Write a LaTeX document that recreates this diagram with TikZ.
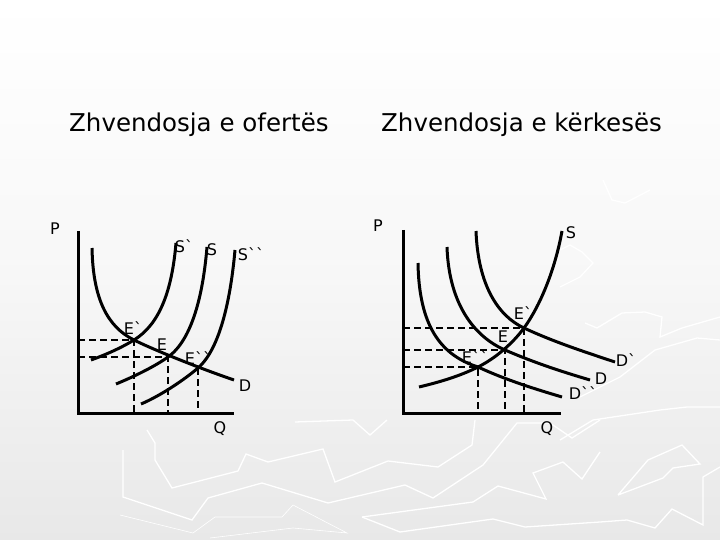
\documentclass[tikz,border=0pt]{standalone}
\usepackage{fontspec}
\newfontfamily\dvs{DejaVu Sans}
\begin{document}
\begin{tikzpicture}[x=1pt,y=-1pt,
  curve/.style={line width=3pt},
  axis/.style={line width=3pt},
  guide/.style={line width=1.8pt,dash pattern=on 7pt off 4pt},
  deco/.style={white,line width=1.3pt,line join=miter},
  decothin/.style={white,line width=0.6pt},
  lab/.style={font=\dvs\fontsize{16}{16}\selectfont,inner sep=0pt},
  ttl/.style={font=\dvs\fontsize{24.5}{24.5}\selectfont,inner sep=0pt,anchor=base west}]
\useasboundingbox (0,0) rectangle (720,540);
\shade[top color=white, bottom color=black!9, middle color=white!97!black] (0,0) rectangle (720,540);
% faint background texture
\draw[deco] (123,450) -- (123,497) -- (192,520) -- (208,498) -- (262,483) -- (328,503) -- (405,485) -- (433,498) -- (483,465) -- (517,423) -- (550,423) -- (572,438) -- (600,420);
\draw[deco] (147,430) -- (155,443) -- (155,460) -- (172,488) -- (238,471) -- (246,454) -- (268,462) -- (323,449) -- (335,482) -- (388,461) -- (438,467) -- (472,445) -- (475,420);
\draw[deco] (362,517) -- (400,532) -- (493,519) -- (525,527) -- (600,522) -- (627,520) -- (655,528) -- (672,509) -- (703,525) -- (703,477) -- (720,467);
\draw[deco] (362,517) -- (473,502) -- (498,486) -- (546,499) -- (533,473) -- (563,462) -- (582,479) -- (600,452);
\draw[decothin] (120,515) -- (193,533) -- (215,517) -- (282,517) -- (293,505) -- (347,533) -- (293,528) -- (210,538);
\draw[deco] (295,422) -- (353,420) -- (370,435) -- (387,420);
\draw[deco] (618,495) -- (648,460) -- (682,445) -- (700,464) -- (673,468) -- (663,478) -- (618,495);
\draw[deco] (585,323) -- (597,328) -- (622,313) -- (645,312) -- (662,317) -- (660,337) -- (682,328) -- (720,317);
\draw[deco] (580,397) -- (620,377) -- (655,350) -- (697,338) -- (720,340);
\draw[deco] (560,440) -- (593,420) -- (660,410) -- (687,407) -- (720,407);
\draw[deco] (603,180) -- (612,200) -- (625,203) -- (650,190);
\draw[deco] (560,250) -- (570,245) -- (582,252) -- (593,263) -- (580,277) -- (560,287);
% titles
\node[ttl] (t1) at (69,132) {Zhvendosja e ofertës};
\node[ttl] (t2) at (381,132) {Zhvendosja e kërkesës};
% ---------- left chart ----------
\coordinate (aL) at (78,413);
\coordinate (EpL) at (134,340);
\coordinate (EL) at (168,357);
\coordinate (EppL) at (198,368);
\draw[guide] (aL |- EpL) -- (EpL) -- (EpL |- aL);
\draw[guide] (aL |- EL) -- (EL) -- (EL |- aL);
\draw[guide] (EppL) -- (EppL |- aL);
\draw[axis] (78,231) -- (aL) -- (234,413);
% demand
\draw[curve] (92,248) .. controls (93,300) and (108,327) .. (EpL)
  .. controls (152,349) and (196,367) .. (234,380);
% S'
\draw[curve] (91,360) .. controls (105,355) and (121,348) .. (EpL)
  .. controls (160,324) and (172,290) .. (176,243);
% S
\draw[curve] (116,384) .. controls (133,377) and (154,367) .. (EL)
  .. controls (192,340) and (203,295) .. (207,247);
% S''
\draw[curve] (141,404) .. controls (160,396) and (184,380) .. (EppL)
  .. controls (221,348) and (231,295) .. (235,250);
\node[lab] (pL) at (55,229) {P};
\node[lab] (qL) at (220,429) {Q};
\node[lab] (s1L) at (184,246) {S`};
\node[lab] (sL) at (212,250) {S};
\node[lab] (s2L) at (251,254) {S``};
\node[lab] (dL) at (245,386) {D};
\node[lab] (e1L) at (133,328) {E`};
\node[lab] (eL) at (162,345) {E};
\node[lab] (e2L) at (198,358) {E``};
% ---------- right chart ----------
\coordinate (aR) at (403,413);
\coordinate (Epp) at (478,367);
\coordinate (E) at (505,350);
\coordinate (Ep) at (524,328);
\draw[guide] (aR |- Ep) -- (Ep) -- (Ep |- aR);
\draw[guide] (aR |- E) -- (E) -- (E |- aR);
\draw[guide] (aR |- Epp) -- (Epp) -- (Epp |- aR);
\draw[axis] (403,230) -- (aR) -- (561,413);
% supply
\draw[curve] (419,387) .. controls (440,382) and (460,376) .. (Epp)
  .. controls (496,358) and (513,343) .. (Ep)
  .. controls (540,306) and (555,270) .. (562,231);
% D''
\draw[curve] (418,263) .. controls (419,325) and (440,355) .. (Epp)
  .. controls (506,380) and (535,389) .. (562,397);
% D
\draw[curve] (447,247) .. controls (449,305) and (475,337) .. (E)
  .. controls (535,363) and (563,372) .. (590,380);
% D'
\draw[curve] (476,231) .. controls (478,285) and (498,316) .. (Ep)
  .. controls (554,342) and (585,352) .. (615,362);
\node[lab] (pR) at (378,226) {P};
\node[lab] (qR) at (547,429) {Q};
\node[lab] (sR) at (571,233) {S};
\node[lab] (e1R) at (523,313) {E`};
\node[lab] (eR) at (503,337) {E};
\node[lab] (e2R) at (475,357) {E``};
\node[lab] (d1R) at (626,360) {D`};
\node[lab] (dR) at (601,379) {D};
\node[lab] (d2R) at (583,393) {D``};
\end{tikzpicture}
\end{document}
